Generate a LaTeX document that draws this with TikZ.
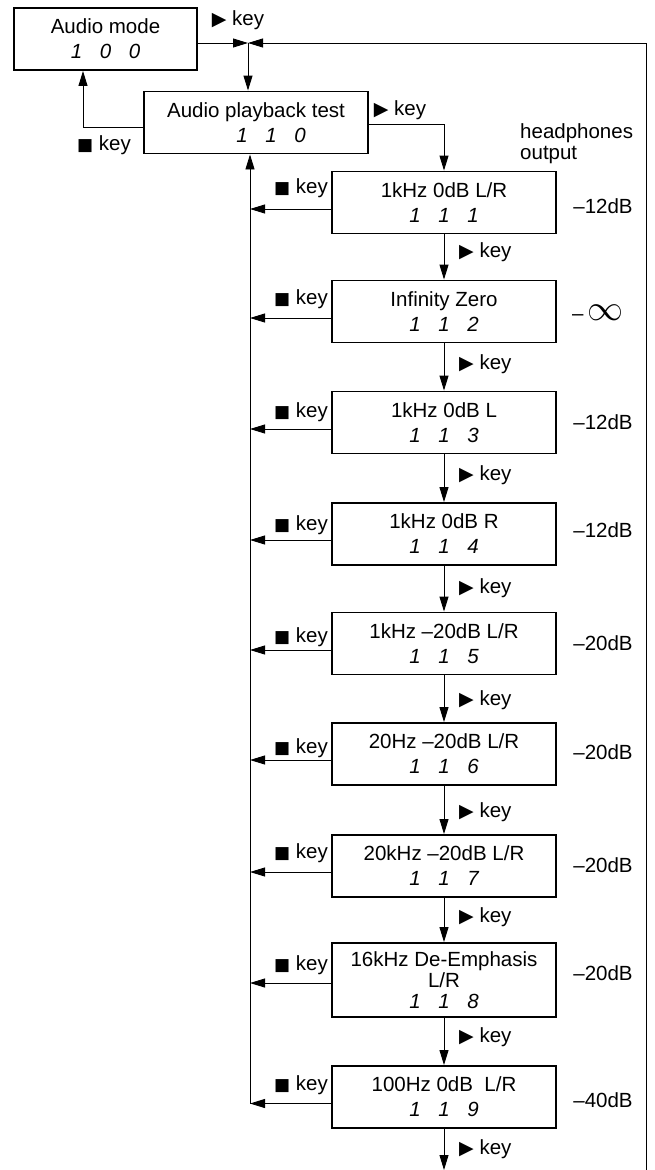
\documentclass[tikz,border=0pt]{standalone}
\usepackage{fontspec}
\usepackage{graphicx}
\setmainfont{Liberation Sans}
\newfontfamily\symf{DejaVu Sans}
\usetikzlibrary{arrows.meta}
\newcommand{\dg}[3]{\textit{\makebox[29pt]{#1}\makebox[29pt]{#2}\makebox[29pt]{#3}}}
\newcommand{\stp}{{\symf\fontsize{17}{17}\selectfont ■}}
\newcommand{\ply}{{\symf\fontsize{19}{19}\selectfont ▶}}
\begin{document}
\begin{tikzpicture}[x=1pt,y=-1pt,
  box/.style={draw, line width=1.9pt, minimum width=224pt, minimum height=62pt, align=center, inner sep=0pt, font=\fontsize{20.5}{25}\selectfont},
  lbl/.style={inner sep=0pt, font=\fontsize{20.5}{24}\selectfont},
  conn/.style={line width=0.9pt, -{Triangle[length=15pt,width=9pt]}},
  line/.style={line width=0.9pt}
]
\useasboundingbox (0,0) rectangle (654,1170);

% boxes
\node[box, minimum width=183pt] (mode) at (105.5,39) {Audio mode\\\dg{1}{0}{0}};
\node[box] (play) at (256,122.5) {Audio playback test\\\hspace*{30pt}\dg{1}{1}{0}};
\node[box] (b1) at (444,202.5) {1kHz 0dB L/R\\\dg{1}{1}{1}};
\node[box] (b2) at (444,311.5) {Infinity Zero\\\dg{1}{1}{2}};
\node[box] (b3) at (444,422.5) {1kHz 0dB L\\\dg{1}{1}{3}};
\node[box] (b4) at (444,534) {1kHz 0dB R\\\dg{1}{1}{4}};
\node[box] (b5) at (444,643.5) {1kHz –20dB L/R\\\dg{1}{1}{5}};
\node[box] (b6) at (444,754) {20Hz –20dB L/R\\\dg{1}{1}{6}};
\node[box] (b7) at (444,866) {20kHz –20dB L/R\\\dg{1}{1}{7}};
\node[box, minimum height=74pt, font=\fontsize{20.5}{21}\selectfont] (b8) at (444,980) {16kHz De-Emphasis\\L/R\\\dg{1}{1}{8}};
\node[box] (b9) at (444,1097) {100Hz 0dB\ \ L/R\\\dg{1}{1}{9}};

% top labels
\node[lbl] (kt) at (238,20) {\ply\ key};
\node[lbl] (ks) at (104,145) {\stp\ key};
\node[lbl] (kp) at (400,110) {\ply\ key};
\node[lbl, align=left, anchor=west, font=\fontsize{20.5}{21}\selectfont] (hp) at (520,143.5) {headphones\\output};

% stop key labels
\node[lbl, anchor=east] (s1) at (328,188) {\stp\ key};
\node[lbl, anchor=east] (s2) at (328,299) {\stp\ key};
\node[lbl, anchor=east] (s3) at (328,412) {\stp\ key};
\node[lbl, anchor=east] (s4) at (328,525) {\stp\ key};
\node[lbl, anchor=east] (s5) at (328,637) {\stp\ key};
\node[lbl, anchor=east] (s6) at (328,748) {\stp\ key};
\node[lbl, anchor=east] (s7) at (328,853) {\stp\ key};
\node[lbl, anchor=east] (s8) at (328,965) {\stp\ key};
\node[lbl, anchor=east] (s9) at (328,1085) {\stp\ key};

% dB labels
\node[lbl] (d1) at (603,206) {–12dB};
\node[lbl, anchor=west] (d2) at (572,313) {–\,\resizebox{36pt}{!}{$\infty$}};
\node[lbl] (d3) at (603,422) {–12dB};
\node[lbl] (d4) at (603,530) {–12dB};
\node[lbl] (d5) at (603,643) {–20dB};
\node[lbl] (d6) at (603,752) {–20dB};
\node[lbl] (d7) at (603,865) {–20dB};
\node[lbl] (d8) at (603,973) {–20dB};
\node[lbl] (d9) at (603,1100) {–40dB};

% play key labels
\node[lbl, anchor=west] (p1) at (459,252) {\ply\ key};
\node[lbl, anchor=west] (p2) at (459,364) {\ply\ key};
\node[lbl, anchor=west] (p3) at (459,475) {\ply\ key};
\node[lbl, anchor=west] (p4) at (459,588) {\ply\ key};
\node[lbl, anchor=west] (p5) at (459,700) {\ply\ key};
\node[lbl, anchor=west] (p6) at (459,812) {\ply\ key};
\node[lbl, anchor=west] (p7) at (459,917) {\ply\ key};
\node[lbl, anchor=west] (p8) at (459,1037) {\ply\ key};
\node[lbl, anchor=west] (p9) at (459,1149) {\ply\ key};

% coordinates
\coordinate (J) at (248,43);
\coordinate (R) at (646,43);
\coordinate (RB) at (646,1172);
\coordinate (ML) at (83,0);
\coordinate (LB) at (250,1103.5);
\coordinate (DB) at (444,1170);

% top connectors
\draw[conn] (mode.east |- J) -- (J);
\draw[conn] (RB) -- (R) -- (J);
\draw[conn] (J) -- (J |- play.north);
\draw[conn] ([yshift=-4.5pt]play.west) -| (mode.south -| ML);
\draw[conn] ([yshift=-1.5pt]play.east) -| (b1.north);
\draw[conn] (LB) -- (LB |- play.south);

% chain
\draw[conn] (b1.south) -- (b2.north);
\draw[conn] (b2.south) -- (b3.north);
\draw[conn] (b3.south) -- (b4.north);
\draw[conn] (b4.south) -- (b5.north);
\draw[conn] (b5.south) -- (b6.north);
\draw[conn] (b6.south) -- (b7.north);
\draw[conn] (b7.south) -- (b8.north);
\draw[conn] (b8.south) -- (b9.north);
\draw[conn] (b9.south) -- (DB);

% return arrows
\foreach \b/\o in {b1/6.5,b2/6.5,b3/6.5,b4/6,b5/6.5,b6/6,b7/6,b8/3,b9/6.5}{
  \path ([yshift=-\o pt]\b.west) coordinate (w\b);
  \draw[conn] (w\b) -- (w\b -| LB);
}
\end{tikzpicture}
\end{document}
